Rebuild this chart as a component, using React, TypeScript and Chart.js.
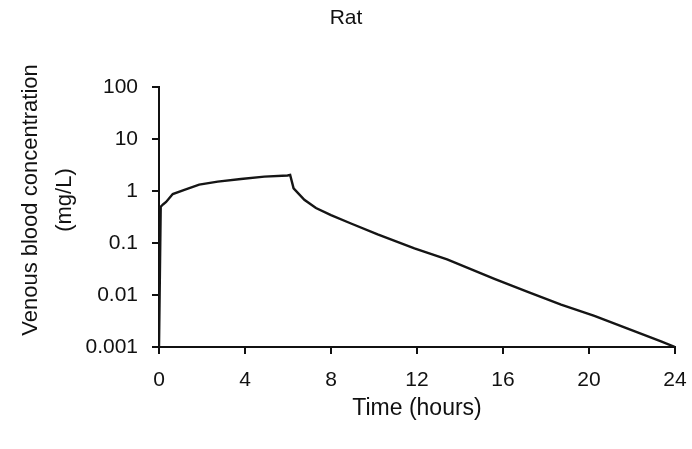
import React, { useEffect, useRef } from "react";
import { Chart, registerables } from "chart.js";

Chart.register(...registerables);

const chartTitle = "Rat";
const xAxisTitle = "Time (hours)";
const yAxisTitleLines = ["Venous blood concentration", "(mg/L)"];

const timeHours = [
  0, 0.08, 0.2, 0.33, 0.64, 1.18, 1.87, 2.73, 3.81, 4.9, 5.98, 6.1, 6.26, 6.76,
  7.3, 8.0, 8.93, 10.17, 11.88, 13.4, 15.6, 17.15, 18.7, 20.25, 21.8, 23.35, 24,
];
const concentration = [
  0.001, 0.5, 0.56, 0.62, 0.88, 1.06, 1.33, 1.52, 1.71, 1.9, 2.0, 2.05, 1.13,
  0.68, 0.473, 0.345, 0.238, 0.147, 0.0794, 0.0484, 0.0205, 0.01156, 0.00653,
  0.00398, 0.00225, 0.00128, 0.001,
];
const yTickValues = [0.001, 0.01, 0.1, 1, 10, 100];
const xTickValues = [0, 4, 8, 12, 16, 20, 24];

const FAMILY = "'Liberation Sans', Arial, sans-serif";

const yTitlePlugin = {
  id: "yTitlePlugin",
  afterDraw(chart: any) {
    const ctx = chart.ctx;
    ctx.save();
    ctx.fillStyle = "#111";
    ctx.font = `22px ${FAMILY}`;
    ctx.textAlign = "center";
    ctx.textBaseline = "middle";
    const xs = [31, 65];
    yAxisTitleLines.forEach((line, i) => {
      ctx.save();
      ctx.translate(xs[i], 200);
      ctx.rotate(-Math.PI / 2);
      ctx.fillText(line, 0, 0);
      ctx.restore();
    });
    ctx.restore();
  },
};

export default function App() {
  const ref = useRef<HTMLCanvasElement | null>(null);
  useEffect(() => {
    document.body.style.margin = "0";
    const canvas = ref.current;
    if (!canvas) return;
    const points = timeHours.map((t, i) => ({ x: t, y: concentration[i] }));
    const font = { family: FAMILY, size: 21 };
    const chart = new Chart(canvas, {
      type: "line",
      data: {
        datasets: [
          {
            data: points,
            borderColor: "#151515",
            borderWidth: 2.4,
            pointRadius: 0,
            tension: 0,
            fill: false,
          },
        ],
      },
      plugins: [yTitlePlugin],
      options: {
        animation: false,
        responsive: false,
        maintainAspectRatio: false,
        layout: { padding: { left: 0, right: 0, top: 0, bottom: 0 } },
        plugins: {
          legend: { display: false },
          tooltip: { enabled: false },
          title: {
            display: true,
            text: chartTitle,
            color: "#111",
            font: { family: FAMILY, size: 21, weight: "normal" },
            padding: { top: 6, bottom: 56 },
          },
        },
        scales: {
          x: {
            type: "linear",
            min: 0,
            max: 24,
            afterBuildTicks: (scale: any) => {
              scale.ticks = xTickValues.map((v) => ({ value: v }));
            },
            afterFit: (scale: any) => {
              scale.height = 102;
              scale.paddingLeft = 0;
              scale.paddingRight = 17;
            },
            ticks: { color: "#111", font, padding: 14, autoSkip: false, maxRotation: 0 },
            grid: { drawOnChartArea: false, drawTicks: true, tickLength: 7, color: "#111", lineWidth: 2 },
            border: { display: true, color: "#111", width: 2 },
            title: {
              display: true,
              text: xAxisTitle,
              color: "#111",
              font: { family: FAMILY, size: 23 },
              padding: { top: 0, bottom: 27 },
            },
          },
          y: {
            type: "logarithmic",
            min: 0.001,
            max: 100,
            afterBuildTicks: (scale: any) => {
              scale.ticks = yTickValues.map((v) => ({ value: v }));
            },
            afterFit: (scale: any) => {
              scale.width = 159;
            },
            ticks: {
              color: "#111",
              font,
              padding: 14,
              autoSkip: false,
              callback: (v: any) => String(v),
            },
            grid: { drawOnChartArea: false, drawTicks: true, tickLength: 7, color: "#111", lineWidth: 2 },
            border: { display: true, color: "#111", width: 2 },
          },
        },
      },
    });
    return () => chart.destroy();
  }, []);
  return <canvas ref={ref} width={692} height={449} style={{ display: "block" }} />;
}
